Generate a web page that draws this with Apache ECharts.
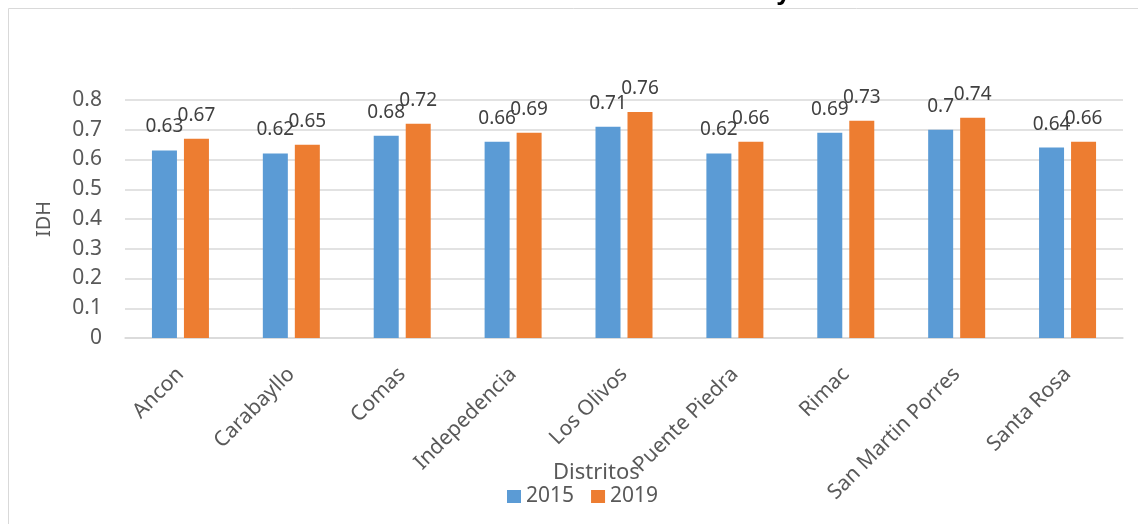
<!DOCTYPE html>
<html><head><meta charset="utf-8">
<script src="https://cdn.jsdelivr.net/npm/echarts@6/dist/echarts.min.js"></script>
<style>html,body{margin:0;padding:0;background:#fff}#c{width:1138px;height:524px}</style>
</head><body><div id="c"></div>
<script>
const categories = ['Ancon','Carabayllo','Comas','Indepedencia','Los Olivos','Puente Piedra','Rimac','San Martin Porres','Santa Rosa'];
const values2015 = [0.63,0.62,0.68,0.66,0.71,0.62,0.69,0.7,0.64];
const values2019 = [0.67,0.65,0.72,0.69,0.76,0.66,0.73,0.74,0.66];
const yTicks = [0,0.1,0.2,0.3,0.4,0.5,0.6,0.7,0.8];
const seriesNames = ['2015','2019'];

const FONT = '"Noto Sans", "Open Sans", sans-serif';
const chart = echarts.init(document.getElementById('c'), null, {renderer:'canvas'});
const lbl = {show:true, position:'top', distance:14, color:'#404040', fontSize:19, fontFamily:FONT};
chart.setOption({
  animation:false,
  title:[
    {text:'Evolución del IDH en Lima Norte 2015 y 2019', left:318, top:-25,
     textStyle:{fontSize:24, fontWeight:'bold', color:'#000', fontFamily:FONT}},
    {text:'Distritos', left:548, top:457,
     textStyle:{fontSize:22, fontWeight:'normal', color:'#595959', fontFamily:FONT}}
  ],
  graphic:[{type:'rect', shape:{x:8.5,y:8.5,width:1200,height:600}, style:{fill:'none', stroke:'#d9d9d9', lineWidth:1}, silent:true, z:-10}],
  legend:{data:seriesNames, left:502, top:481, itemWidth:14, itemHeight:13, itemGap:17,
    icon:'rect', textStyle:{fontSize:21, color:'#595959', fontFamily:FONT}},
  grid:{left:125, right:15, top:100, bottom:186, containLabel:false},
  xAxis:{type:'category', data:categories,
    axisLine:{lineStyle:{color:'#d9d9d9', width:1.5}}, axisTick:{show:false},
    axisLabel:{rotate:45, margin:33, fontSize:21, color:'#595959', fontFamily:FONT, interval:0}},
  yAxis:{type:'value', min:yTicks[0], max:yTicks[yTicks.length-1], interval:0.1,
    name:'IDH', nameLocation:'middle', nameGap:71,
    nameTextStyle:{fontSize:20, color:'#595959', fontFamily:FONT},
    axisLine:{show:false}, axisTick:{show:false},
    splitLine:{lineStyle:{color:'#d9d9d9', width:1.5}},
    axisLabel:{margin:23, fontSize:21, color:'#595959', fontFamily:FONT,
      formatter:v=>String(Math.round(v*10)/10)}},
  series:[
    {name:seriesNames[0], type:'bar', data:values2015, barWidth:25, barGap:'28%',
     itemStyle:{color:'#5B9BD5'}, label:lbl},
    {name:seriesNames[1], type:'bar', data:values2019, barWidth:25,
     itemStyle:{color:'#ED7D31'}, label:lbl}
  ]
});
</script></body></html>
